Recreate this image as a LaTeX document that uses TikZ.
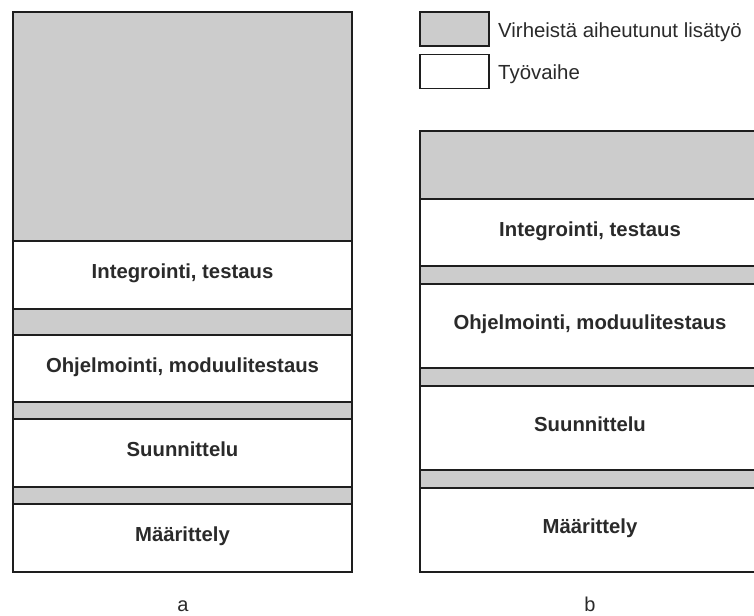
\documentclass[tikz,border=0pt]{standalone}
\usepackage{fontspec}
\setmainfont{Liberation Sans}
\definecolor{extra}{HTML}{CCCCCC}
\definecolor{edge}{HTML}{1E1E1E}
\definecolor{txt}{HTML}{2A2A2A}
\begin{document}
\begin{tikzpicture}[x=1pt,y=-1pt,
  layer/.style={draw=edge, line width=1.8pt, rectangle, inner sep=0pt, outer sep=0pt,
    text=txt, font=\fontsize{20.3}{24}\selectfont\bfseries,
    text height=0.72em, text depth=0pt},
  phase/.style={layer, fill=white},
  rework/.style={layer, fill=extra},
  keybox/.style={draw=edge, line width=1.8pt, rectangle, inner sep=0pt,
    minimum width=69pt, minimum height=34pt},
  keytext/.style={anchor=base west, inner sep=0pt, text=txt,
    font=\fontsize{20.4}{24}\selectfont},
  caption/.style={anchor=base, inner sep=0pt, text=txt,
    font=\fontsize{20}{24}\selectfont}]
\clip (0,0) rectangle (754,615);

% column a
\begin{scope}[every node/.append style={minimum width=339pt}]
  \node[rework, minimum height=229pt] (ga) at (182.5,126.5) {};
  \node[phase,  minimum height=68pt]  (ia) at (182.5,275)   {Integrointi, testaus};
  \node[rework, minimum height=26pt]  (g1a) at (182.5,322)  {};
  \node[phase,  minimum height=67pt]  (oa) at (182.5,368.5) {Ohjelmointi, moduulitestaus};
  \node[rework, minimum height=17pt]  (g2a) at (182.5,410.5){};
  \node[phase,  minimum height=68pt]  (sa) at (182.5,453)   {Suunnittelu};
  \node[rework, minimum height=17pt]  (g3a) at (182.5,495.5){};
  \node[phase,  minimum height=68pt]  (ma) at (182.5,538)   {Määrittely};
\end{scope}
\node[caption] (capa) at (183,611) {a};

% column b
\begin{scope}[every node/.append style={minimum width=340pt}]
  \node[rework, minimum height=68pt]  (gb)  at (590,165)   {};
  \node[phase,  minimum height=67pt]  (ib)  at (590,232.5) {Integrointi, testaus};
  \node[rework, minimum height=18pt]  (g1b) at (590,275)   {};
  \node[phase,  minimum height=84pt]  (ob)  at (590,326)   {Ohjelmointi, moduulitestaus};
  \node[rework, minimum height=18pt]  (g2b) at (590,377)   {};
  \node[phase,  minimum height=84pt]  (sb)  at (590,428)   {Suunnittelu};
  \node[rework, minimum height=18pt]  (g3b) at (590,479)   {};
  \node[phase,  minimum height=84pt]  (mb)  at (590,530)   {Määrittely};
\end{scope}
\node[caption] (capb) at (590,611) {b};

% legend
\node[keybox, fill=extra] (kg) at (454.5,29) {};
\node[keybox, fill=white] (kw) at (454.5,71.5) {};
\node[keytext] (tg) at (498,38) {Virheistä aiheutunut lisätyö};
\node[keytext] (tw) at (498,80) {Työvaihe};
\end{tikzpicture}
\end{document}
